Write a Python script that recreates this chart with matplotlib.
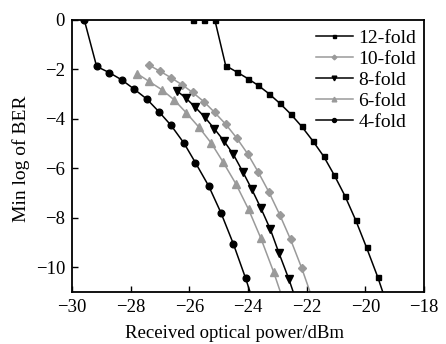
import matplotlib
matplotlib.use("Agg")
import matplotlib.pyplot as plt

plt.rcParams['font.family'] = ['Liberation Serif', 'DejaVu Serif']

# Data
x12 = [-25.87, -25.50, -25.13, -24.76, -24.39, -24.01, -23.65, -23.29, -22.91, -22.55,
       -22.17, -21.80, -21.42, -21.06, -20.70, -20.33, -19.96, -19.58, -19.21]
y12 = [0, 0, 0, -1.85, -2.10, -2.37, -2.65, -2.98, -3.38, -3.80,
       -4.31, -4.88, -5.52, -6.28, -7.11, -8.10, -9.21, -10.40, -11.7]

x10 = [-27.37, -26.99, -26.62, -26.24, -25.89, -25.50, -25.14, -24.76, -24.39, -24.01,
       -23.65, -23.29, -22.92, -22.55, -22.17, -21.80]
y10 = [-1.83, -2.08, -2.34, -2.63, -2.93, -3.31, -3.74, -4.22, -4.77, -5.42,
       -6.16, -6.96, -7.88, -8.88, -10.04, -11.3]

x8 = [-26.43, -26.11, -25.79, -25.47, -25.15, -24.83, -24.50, -24.18, -23.88, -23.56,
      -23.24, -22.94, -22.61, -22.29]
y8 = [-2.86, -3.17, -3.54, -3.94, -4.40, -4.88, -5.44, -6.14, -6.83, -7.62,
      -8.47, -9.45, -10.48, -11.6]

x6 = [-27.78, -27.37, -26.94, -26.52, -26.11, -25.68, -25.25, -24.85, -24.41, -23.98,
      -23.56, -23.13, -22.70]
y6 = [-2.17, -2.49, -2.82, -3.23, -3.75, -4.33, -4.99, -5.75, -6.64, -7.67,
      -8.84, -10.19, -11.7]

x4 = [-29.58, -29.16, -28.73, -28.31, -27.89, -27.45, -27.04, -26.62, -26.18,
      -25.79, -25.34, -24.92, -24.50, -24.08, -23.66]
y4 = [0, -1.88, -2.13, -2.42, -2.79, -3.20, -3.71, -4.27, -4.99,
      -5.78, -6.72, -7.81, -9.06, -10.46, -12.0]

labels = ['12-fold', '10-fold', '8-fold', '6-fold', '4-fold']
xticks = [-30, -28, -26, -24, -22, -20, -18]
yticks = [0, -2, -4, -6, -8, -10]

fig = plt.figure(figsize=(4.46, 3.44), dpi=100)
ax = fig.add_axes([0.1614, 0.152, 0.7893, 0.7899])

lw = 1.1
ax.plot(x12, y12, color='black', lw=lw, marker='s', ms=3.6, label=labels[0])
ax.plot(x10, y10, color='#9a9a9a', lw=lw, marker='D', ms=4.0, label=labels[1])
ax.plot(x8, y8, color='black', lw=lw, marker='v', ms=5.6, label=labels[2])
ax.plot(x6, y6, color='#9a9a9a', lw=lw, marker='^', ms=5.6, label=labels[3])
ax.plot(x4, y4, color='black', lw=lw, marker='o', ms=4.8, label=labels[4])

ax.set_xlim(-30, -18)
ax.set_ylim(-11, 0)
ax.set_xticks(xticks)
ax.set_yticks(yticks)
ax.set_xticklabels(['\u2212%d' % abs(v) for v in xticks])
ax.set_yticklabels(['0' if v == 0 else '\u2212%d' % abs(v) for v in yticks])
ax.tick_params(direction='in', length=4, width=1, labelsize=13.5, pad=5)
for s in ax.spines.values():
    s.set_linewidth(1.3)

ax.set_xlabel('Received optical power/dBm', fontsize=13.5)
ax.xaxis.set_label_coords(0.463, -0.171)
ax.xaxis.label.set_va('baseline')
ax.set_ylabel('Min log of BER', fontsize=14)
ax.yaxis.set_label_coords(-0.146, 0.49)
ax.yaxis.label.set_va('center')

leg = ax.legend(loc='upper right', frameon=False, fontsize=14, handlelength=1.9,
                handletextpad=0.3, labelspacing=0.18, borderaxespad=0.0,
                markerscale=0.6, bbox_to_anchor=(1.0, 0.995))

fig.savefig('out.png', dpi=100)
